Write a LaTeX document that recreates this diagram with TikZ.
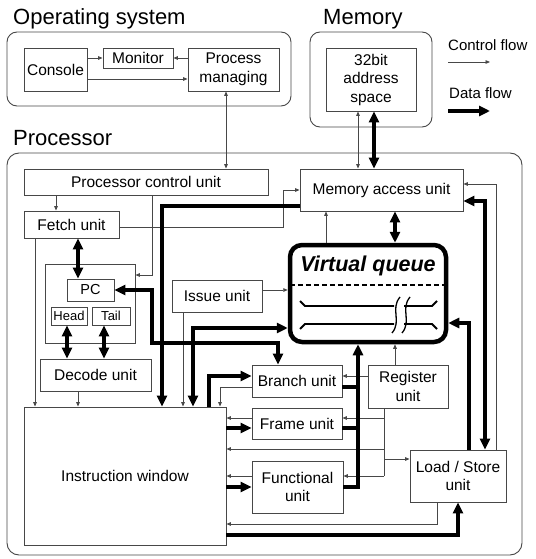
\documentclass[tikz,border=0pt]{standalone}
\usepackage{fontspec}
\setmainfont{Liberation Sans}
\usetikzlibrary{arrows.meta,calc}
\begin{document}
\begin{tikzpicture}[x=1pt,y=-1pt,
 box/.style={draw=black!72, line width=0.9pt, fill=white, inner sep=1pt, align=center, font=\fontsize{15.5}{18.5}\selectfont},
 smallbox/.style={box, font=\fontsize{13}{15}\selectfont},
 grp/.style={draw=black!72, line width=0.9pt, inner sep=0pt},
 ttl/.style={anchor=base west, inner sep=0pt, font=\fontsize{22}{24}\selectfont},
 lgd/.style={anchor=west, inner sep=0pt, font=\fontsize{15}{17}\selectfont},
 ctl/.style={draw=black!72, line width=0.8pt, -{Triangle[length=4.5pt,width=3.6pt]}},
 ctlb/.style={draw=black!72, line width=0.8pt, {Triangle[length=4.5pt,width=3.6pt]}-{Triangle[length=4.5pt,width=3.6pt]}},
 dat/.style={draw=black, line width=3.2pt, -{Triangle[length=11pt,width=10pt]}},
 datb/.style={draw=black, line width=3.2pt, {Triangle[length=11pt,width=10pt]}-{Triangle[length=11pt,width=10pt]}},
 datl/.style={draw=black, line width=3.2pt},
]
\useasboundingbox (0,0) rectangle (535,559);
\fill[white] (0,0) rectangle (535,559);

% helper coordinates
\foreach \v in {35,56,67,78,104,152,162,183,193,209,220,226,278,283,326,358,374,384,395,437,458,469,485,496}{\coordinate (x\v) at (\v,0);}
\foreach \v in {58,79,184,190,201,206,227,275,290,323,328,343,376,387,418,428,449,459,476,487,524,535}{\coordinate (y\v) at (0,\v);}

% titles
\node[ttl] (tos) at (13,25) {Operating system};
\node[ttl] (tmem) at (323,25) {Memory};
\node[ttl] (tproc) at (13,146) {Processor};

% group frames
\node[grp, rounded corners=10pt, minimum width=284pt, minimum height=74pt] (os) at (149,69) {};
\node[grp, rounded corners=10pt, minimum width=122pt, minimum height=95pt] (mem) at (371,79.5) {};
\node[grp, rounded corners=12pt, minimum width=515pt, minimum height=402pt] (proc) at (264.5,354) {};

% legend
\node[lgd] (lc) at (448,45) {Control flow};
\node[lgd] (ld) at (449,93) {Data flow};
\coordinate (lc1) at (448,62); \coordinate (lc2) at (490,62);
\coordinate (ld1) at (448,111); \coordinate (ld2) at (490,111);
\draw[ctl] (lc1) -- (lc2);
\draw[dat] (ld1) -- (ld2);

% OS
\node[box, minimum width=63pt, minimum height=43pt] (con) at (55.5,69.5) {Console};
\node[box, minimum width=70pt, minimum height=20pt] (mon) at (138,58) {Monitor};
\node[box, minimum width=91pt, minimum height=43pt] (pm) at (233.5,69.5) {Process\\managing};
% Memory
\node[box, minimum width=90pt, minimum height=63pt] (addr) at (371,79.5) {32bit\\address\\space};

% Processor
\node[box, minimum width=244pt, minimum height=26pt] (pcu) at (146,182) {Processor control unit};
\node[box, minimum width=95pt, minimum height=27pt] (fetch) at (71.5,224.5) {Fetch unit};
\node[box, minimum width=163pt, minimum height=42pt] (mau) at (381.5,190) {Memory access unit};
\node[draw=black, line width=4.5pt, rounded corners=12pt, minimum width=156pt, minimum height=97pt, inner sep=0pt] (vq) at (368,293.5) {};
\node[inner sep=0pt, font=\fontsize{21.5}{24}\selectfont\bfseries\itshape] (vqt) at (368,266) {Virtual queue};
\node[box, minimum width=90pt, minimum height=32pt] (issue) at (217,296) {Issue unit};
\node[grp, minimum width=90pt, minimum height=79pt] (cont) at (90,303.5) {};
\node[box, font=\fontsize{14.5}{16}\selectfont, minimum width=47pt, minimum height=22pt] (pc) at (90.5,290) {PC};
\node[smallbox, minimum width=36pt, minimum height=18pt] (head) at (69,316) {Head};
\node[smallbox, minimum width=38pt, minimum height=18pt] (tail) at (111,316) {Tail};
\node[box, minimum width=111pt, minimum height=32pt] (dec) at (95.5,375) {Decode unit};
\node[box, minimum width=202pt, minimum height=138pt] (iw) at (125,476) {Instruction window};
\node[box, minimum width=90pt, minimum height=32pt] (br) at (297,381) {Branch unit};
\node[box, minimum width=90pt, minimum height=31pt] (fr) at (297,423.5) {Frame unit};
\node[box, minimum width=91pt, minimum height=52pt] (fu) at (297.5,487) {Functional\\unit};
\node[box, minimum width=80pt, minimum height=43pt] (reg) at (408,386.5) {Register\\unit};
\node[box, minimum width=96pt, minimum height=52pt] (lsu) at (458,476) {Load / Store\\unit};

% virtual queue interior
\draw[black, line width=1.1pt, dash pattern=on 5pt off 3pt] ($(vq.west)+(2,-8.5)$) -- ($(vq.east)+(-2,-8.5)$);
\begin{scope}[line width=1.8pt, black]
 \draw (300,301) -- (305,306) -- (394,306);
 \draw (404,306) -- (432,306) -- (437,301);
 \draw (300,329) -- (305,324) -- (394,324);
 \draw (404,324) -- (432,324) -- (437,329);
 \draw[line width=1.3pt] (400,297) .. controls (390,309) and (402,321) .. (392,333);
 \draw[line width=1.3pt] (410,297) .. controls (400,309) and (412,321) .. (402,333);
\end{scope}

% OS connectors
\draw[ctl] (con.east |- mon.west) -- (mon.west);
\draw[ctl] (pm.west |- mon.east) -- (mon.east);
\draw[ctl] (con.east |- y79) -- (pm.west |- y79);
\draw[ctlb] (x226 |- pm.south) -- (x226 |- pcu.north);
% memory connectors
\draw[ctlb] (x358 |- addr.south) -- (x358 |- mau.north);
\draw[datb] (x374 |- addr.south) -- (x374 |- mau.north);

% processor control
\draw[ctl] (x56 |- pcu.south) -- (x56 |- fetch.north);
\draw[ctl] (x152 |- pcu.south) -- (x152 |- y275) -- (cont.east |- y275);
\draw[ctl] (fetch.east |- y227) -- (x283 |- y227) -- (x283 |- mau.west) -- (mau.west);
\draw[ctl] (x35 |- fetch.south) -- (x35 |- iw.north);
\draw[datb] (x78 |- fetch.south) -- (x78 |- pc.north);
\draw[datb] (x67 |- head.south) -- (x67 |- dec.north);
\draw[datb] (x104 |- tail.south) -- (x104 |- dec.north);
\draw[ctl] (x78 |- dec.south) -- (x78 |- iw.north);
\draw[ctl] (x183 |- issue.south) -- (x183 |- iw.north);
\draw[ctl] (issue.east |- y290) -- (vq.west |- y290);
\draw[dat] (mau.west |- y206) -- (x162 |- y206) -- (x162 |- iw.north);
\draw[datb] (x193 |- iw.north) -- (x193 |- y328) -- (vq.west |- y328);
\draw[datb] (pc.east) -- (x152 |- pc.east) -- (x152 |- y343) -- (x278 |- y343) -- (x278 |- br.north);
\draw[dat] (x209 |- iw.north) -- (x209 |- y376) -- (br.west |- y376);
\draw[ctl] (br.west |- y387) -- (x220 |- y387) -- (x220 |- iw.north);
\draw[ctl] (fr.west |- y418) -- (iw.east |- y418);
\draw[dat] (iw.east |- y428) -- (fr.west |- y428);
\draw[ctl] (fu.west |- y476) -- (iw.east |- y476);
\draw[dat] (iw.east |- y487) -- (fu.west |- y487);

% register unit
\draw[ctl] (reg.west |- y376) -- (br.east |- y376);
\draw[ctl] (x395 |- reg.north) -- (x395 |- vq.south);
\draw[draw=black!72, line width=0.8pt] (x384 |- reg.south) -- (x384 |- y476);
\draw[ctl] (x384 |- y418) -- (fr.east |- y418);
\draw[ctl] (x384 |- y449) -- (iw.east |- y449);
\draw[ctl] (x384 |- y459) -- (lsu.west |- y459);
\draw[ctl] (x384 |- y476) -- (fu.east |- y476);

% results to virtual queue
\draw[datl] (br.east |- y387) -- (x358 |- y387);
\draw[datl] (fr.east |- y428) -- (x358 |- y428);
\draw[dat] (fu.east |- y487) -- (x358 |- y487) -- (x358 |- vq.south);

% memory access / load store
\draw[datb] (x395 |- mau.south) -- (x395 |- vq.north);
\draw[ctl] (x326 |- vq.north) -- (x326 |- mau.south);
\draw[dat] (x469 |- lsu.north) -- (x469 |- y323) -- (vq.east |- y323);
\draw[datb] (mau.east |- y201) -- (x485 |- y201) -- (x485 |- lsu.north);
\draw[ctl] (x496 |- lsu.north) -- (x496 |- y184) -- (mau.east |- y184);
\draw[ctl] (x437 |- lsu.south) -- (x437 |- y524) -- (iw.east |- y524);
\draw[dat] (iw.east |- y535) -- (x458 |- y535) -- (x458 |- lsu.south);
\end{tikzpicture}
\end{document}
